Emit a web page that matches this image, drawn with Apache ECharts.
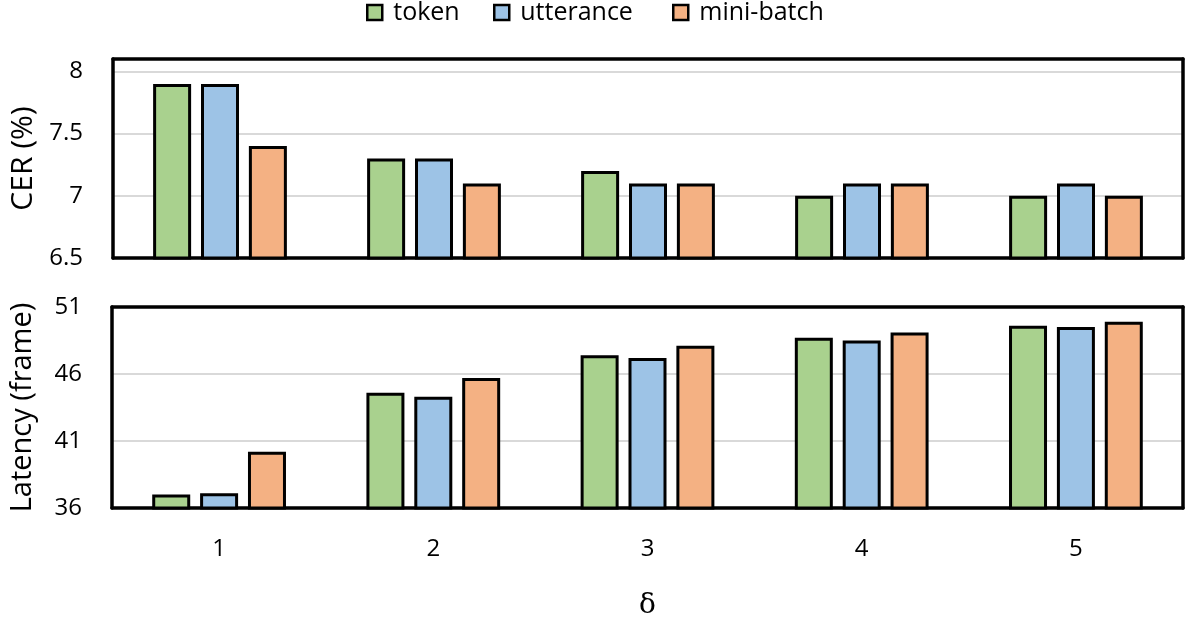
<!DOCTYPE html>
<html><head><meta charset="utf-8">
<script src="https://cdn.jsdelivr.net/npm/echarts@6/dist/echarts.min.js"></script>
<style>html,body{margin:0;padding:0;background:#fff}#c{width:1196px;height:621px}</style>
</head><body><div id="c"></div>
<script>
const categories = ['1','2','3','4','5'];
const seriesNames = ['token','utterance','mini-batch'];
const cerToken = [7.9, 7.3, 7.2, 7.0, 7.0];
const cerUtterance = [7.9, 7.3, 7.1, 7.1, 7.1];
const cerMiniBatch = [7.4, 7.1, 7.1, 7.1, 7.0];
const latToken = [37.0, 44.6, 47.4, 48.7, 49.6];
const latUtterance = [37.1, 44.3, 47.2, 48.5, 49.5];
const latMiniBatch = [40.2, 45.7, 48.1, 49.1, 49.9];
const colors = ['#A9D18E', '#9DC3E6', '#F4B183'];

const font = 'Open Sans';
const chart = echarts.init(document.getElementById('c'));
const barCommon = (name, idx, data, axis) => ({
  name: name, type: 'bar', xAxisIndex: axis, yAxisIndex: axis, data: data,
  barWidth: 38, barGap: '26%',
  itemStyle: {color: colors[idx], borderColor: '#000', borderWidth: 3},
  emphasis: {disabled: true}
});
const frameX = (g) => ({type: 'category', gridIndex: g, position: 'top', data: categories,
  axisLabel: {show: false}, axisTick: {show: false}, splitLine: {show: false},
  axisLine: {show: true, lineStyle: {color: '#000', width: 3.5}}});
const frameY = (g, mn, mx) => ({type: 'value', gridIndex: g, position: 'right', min: mn, max: mx,
  axisLabel: {show: false}, axisTick: {show: false}, splitLine: {show: false},
  axisLine: {show: true, lineStyle: {color: '#000', width: 3.5}}});
const legendLefts = [366, 493, 672];
const legends = seriesNames.map((n, i) => ({
  top: 0, left: legendLefts[i], padding: 0, itemWidth: 15, itemHeight: 15, icon: 'rect',
  data: [n],
  itemStyle: {borderColor: '#000', borderWidth: 2.5},
  textStyle: {fontSize: 25, color: '#000', fontFamily: font, padding: [0, 0, 0, 6]}
}));
chart.setOption({
  animation: false,
  color: colors,
  textStyle: {fontFamily: font},
  legend: legends,
  grid: [
    {left: 112, top: 59, width: 1071, height: 199},
    {left: 112, top: 307, width: 1071, height: 202}
  ],
  xAxis: [
    {type: 'category', gridIndex: 0, data: categories, axisLabel: {show: false}, axisTick: {show: false}, axisLine: {lineStyle: {color: '#000', width: 3.5}}},
    {type: 'category', gridIndex: 1, data: categories, axisTick: {show: false}, axisLine: {lineStyle: {color: '#000', width: 3.5}},
     axisLabel: {fontSize: 24, color: '#000', margin: 29, fontFamily: font},
     name: 'δ', nameLocation: 'middle', nameGap: 84, nameTextStyle: {fontSize: 28, color: '#000', fontFamily: 'DejaVu Serif'}},
    frameX(0), frameX(1)
  ],
  yAxis: [
    {type: 'value', gridIndex: 0, min: 6.5, max: 8.1, interval: 0.5,
     axisLine: {show: true, lineStyle: {color: '#000', width: 3.5}}, axisTick: {show: false},
     axisLabel: {fontSize: 24, color: '#000', margin: 30, fontFamily: font, showMaxLabel: false, formatter: v => (v > 8.05 ? '' : String(v))},
     splitLine: {lineStyle: {color: '#D9D9D9', width: 2}},
     name: 'CER (%)', nameLocation: 'middle', nameGap: 75, nameRotate: 90, nameTextStyle: {fontSize: 30, color: '#000', fontFamily: font}},
    {type: 'value', gridIndex: 1, min: 36, max: 51, interval: 5,
     axisLine: {show: true, lineStyle: {color: '#000', width: 3.5}}, axisTick: {show: false},
     axisLabel: {fontSize: 24, color: '#000', margin: 30, fontFamily: font},
     splitLine: {lineStyle: {color: '#D9D9D9', width: 2}},
     name: 'Latency (frame)', nameLocation: 'middle', nameGap: 75, nameRotate: 90, nameTextStyle: {fontSize: 29, color: '#000', fontFamily: font}},
    frameY(0, 6.5, 8.1), frameY(1, 36, 51)
  ],
  series: [
    barCommon('token', 0, cerToken, 0),
    barCommon('utterance', 1, cerUtterance, 0),
    barCommon('mini-batch', 2, cerMiniBatch, 0),
    barCommon('token', 0, latToken, 1),
    barCommon('utterance', 1, latUtterance, 1),
    barCommon('mini-batch', 2, latMiniBatch, 1)
  ]
});
</script></body></html>
